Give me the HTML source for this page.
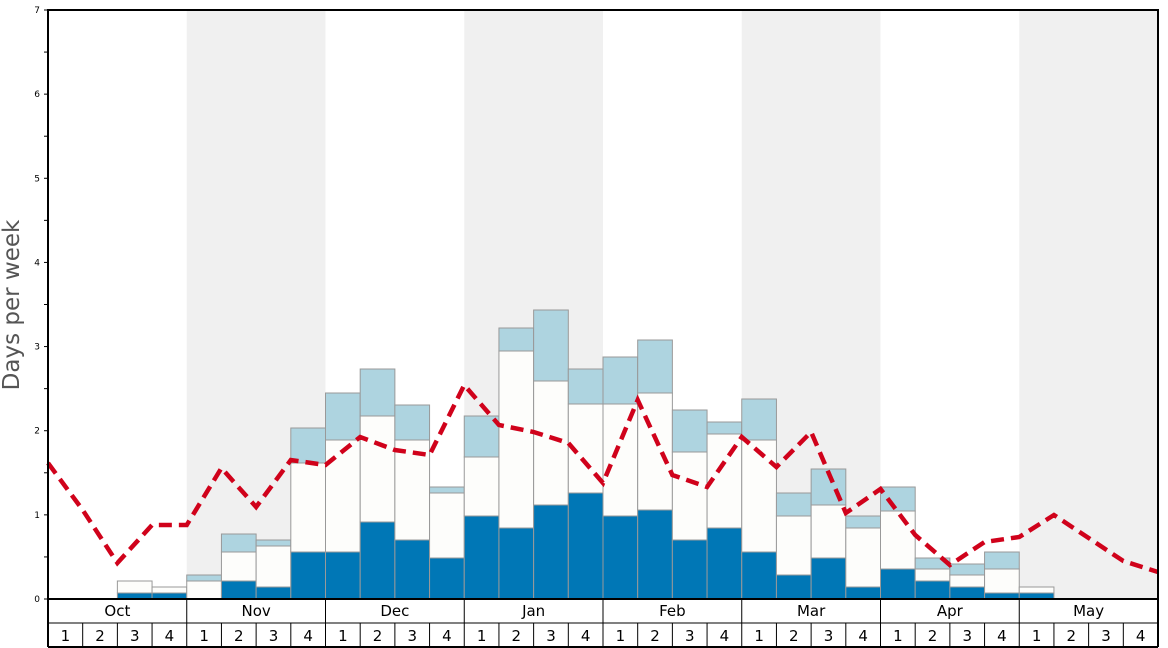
<!DOCTYPE html>
<html><head><meta charset="utf-8"><style>
html,body{margin:0;padding:0;background:#fff;}
svg{display:block;font-family:"DejaVu Sans","Liberation Sans",sans-serif;}
</style></head><body>
<svg id="s" width="1168" height="648" viewBox="0 0 1168 648" xmlns="http://www.w3.org/2000/svg"></svg>
<script>
const s=document.getElementById('s');
const L=48,R=1158,T=10,B=599,W=(R-L)/32,U=(B-T)/7;
let h='';
[1,3,5,7].forEach(m=>{h+=`<rect x="${L+m*4*W}" y="${T}" width="${4*W}" height="${B-T}" fill="#f0f0f0"/>`;});
const d=[[0,0,0],[0,0,0],[593,581,581],[593,587,587],
[599,581,575],[581,552,534],[587,546,540],[552,463,428],
[552,440,393],[522,416,369],[540,440,405],[558,493,487],
[516,457,416],[528,351,328],[505,381,310],[493,404,369],
[516,404,357],[510,393,340],[540,452,410],[528,434,422],
[552,440,399],[575,516,493],[558,505,469],[587,528,516],
[569,511,487],[581,569,558],[587,575,564],[593,569,552],
[593,587,587],[0,0,0],[0,0,0],[0,0,0]];
d.forEach((v,i)=>{if(!v[0])return;const x=L+i*W;
if(v[2]<v[1])h+=`<rect x="${x}" y="${v[2]}" width="${W}" height="${v[1]-v[2]}" fill="#aed4e0" stroke="#999" stroke-width="1"/>`;
if(v[1]<v[0])h+=`<rect x="${x}" y="${v[1]}" width="${W}" height="${v[0]-v[1]}" fill="#fdfdfb" stroke="#999" stroke-width="1"/>`;
if(v[0]<B)h+=`<rect x="${x}" y="${v[0]}" width="${W}" height="${B-v[0]}" fill="#0077b6" stroke="#999" stroke-width="1"/>`;
});
const ly=[463,510,563,525,525,468,507,460,465,437,450,455,385,425,432,443,483,400,475,487,437,467,432,513,489,535,565,542,537,515,538,561,572];
h+=`<polyline fill="none" stroke="#d0021b" stroke-width="4.5" stroke-dasharray="13,7" points="${ly.map((y,i)=>(L+i*W)+','+y).join(' ')}"/>`;
h+=`<rect x="${L}" y="${T}" width="${R-L}" height="${B-T}" fill="none" stroke="#000" stroke-width="2"/>`;
for(let k=0;k<=14;k++){const y=B-k*U/2;h+=`<line x1="${L-4}" x2="${L}" y1="${y}" y2="${y}" stroke="#000" stroke-width="1"/>`;
if(k%2==0)h+=`<text x="${L-8}" y="${y+3}" font-size="9" text-anchor="end">${k/2}</text>`;}
h+=`<text transform="translate(19,305) rotate(-90)" font-size="23" fill="#555" text-anchor="middle">Days per week</text>`;
const M=['Oct','Nov','Dec','Jan','Feb','Mar','Apr','May'];
h+=`<line x1="${L}" x2="${L}" y1="${B}" y2="647" stroke="#000" stroke-width="2"/>`;
h+=`<line x1="${R}" x2="${R}" y1="${B}" y2="647" stroke="#000" stroke-width="2"/>`;
h+=`<line x1="${L}" x2="${R}" y1="623" y2="623" stroke="#000" stroke-width="1"/>`;
h+=`<line x1="${L}" x2="${R}" y1="647" y2="647" stroke="#000" stroke-width="2"/>`;
M.forEach((m,i)=>{const x=L+i*4*W;
h+=`<line x1="${x}" x2="${x}" y1="${B}" y2="623" stroke="#000" stroke-width="1"/>`;
h+=`<text x="${x+2*W}" y="616" font-size="15" text-anchor="middle">${m}</text>`;
for(let w=0;w<4;w++){const wx=L+(i*4+w)*W;
h+=`<line x1="${wx}" x2="${wx}" y1="623" y2="647" stroke="#000" stroke-width="1"/>`;
h+=`<text x="${wx+W/2}" y="641" font-size="15" text-anchor="middle">${w+1}</text>`;}
});
s.innerHTML=h;
</script>
</body></html>
